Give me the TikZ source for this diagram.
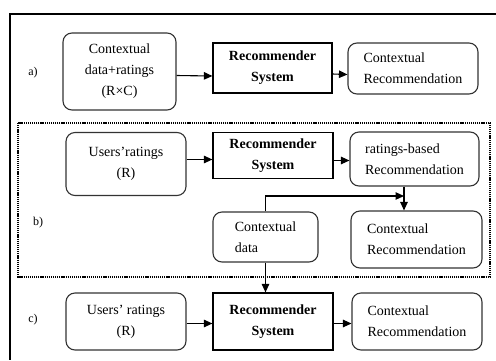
\documentclass[tikz,border=0pt]{standalone}
\usepackage{fontspec}
\setmainfont{Liberation Serif}
\usepackage{tikz}
\usetikzlibrary{arrows.meta}
\tikzstyle{node_round} = [rectangle, rounded corners=9pt, draw=black!80, line width=1.1pt, inner sep=0pt, align=left, font=\fontsize{14}{21}\selectfont]
\tikzstyle{node_sys} = [rectangle, draw, line width=1.2pt, inner sep=0pt, align=center, font=\fontsize{14}{21}\selectfont\bfseries]
\tikzstyle{node_label} = [font=\fontsize{12}{14}\selectfont]
\tikzstyle{edge_arrow} = [line width=1.1pt, -{Triangle[length=8.5pt,width=7.5pt]}]
\tikzstyle{frame_dotted} = [line width=1.4pt, dash pattern=on 1.2pt off 0.9pt]

\begin{document}
\begin{tikzpicture}[x=1pt,y=-1pt]
			\useasboundingbox (0,0) rectangle (496,360);
			\draw[line width=2.6pt] (496,14) -- (10,14) -- (10,360);
			\draw[frame_dotted] (18,123) rectangle (490,277);
			% a)
			\node (LA) at (33,73) [node_label] {a)};
			\node (A1) at (119.5,71.5) [node_round, align=center, minimum width=113pt, minimum height=77pt] {Contextual\\data+ratings\\(R×C)};
			\node (A2) at (272.5,68) [node_sys, minimum width=119pt, minimum height=50pt] {Recommender\\System};
			\node (A3) at (413,68.5) [node_round, minimum width=130pt, minimum height=51pt] {Contextual\\Recommendation};
			\draw[edge_arrow] ([yshift=-4pt]A1.east) -- ([yshift=-8pt]A2.west);
			\draw[edge_arrow] ([yshift=-6pt]A2.east) -- ([yshift=-6pt]A3.west);
			% b)
			\node (LB) at (38,223) [node_label] {b)};
			\node (B1) at (126,164) [node_round, align=center, minimum width=120pt, minimum height=63pt] {Users’ratings\\(R)};
			\node (B2) at (273,155.5) [node_sys, minimum width=120pt, minimum height=46pt] {Recommender\\System};
			\node (B3) at (414.5,159) [node_round, minimum width=129pt, minimum height=54pt] {ratings-based\\Recommendation};
			\node (B4) at (265.5,237) [node_round, minimum width=105pt, minimum height=50pt] {Contextual\\data};
			\node (B5) at (416.5,239.5) [node_round, minimum width=131pt, minimum height=57pt] {Contextual\\Recommendation};
			\coordinate (join) at (404,196);
			\draw[edge_arrow] ([yshift=-4pt]B2.west -| B1.east) -- ([yshift=-4pt]B2.west);
			\draw[edge_arrow] ([yshift=-5pt]B2.east) -- ([yshift=-5pt]B2.east -| B3.west);
			\draw[edge_arrow] (B4.north) |- (join);
			\draw[edge_arrow] (B3.south -| join) -- (B5.north -| join);
			% c)
			\node (LC) at (33,320) [node_label] {c)};
			\node (C1) at (126,321.5) [node_round, align=center, minimum width=120pt, minimum height=57pt] {Users’ ratings\\(R)};
			\node (C2) at (273,321.5) [node_sys, minimum width=120pt, minimum height=57pt] {Recommender\\System};
			\node (C3) at (417,321.5) [node_round, minimum width=130pt, minimum height=57pt] {Contextual\\Recommendation};
			\draw[edge_arrow] (B4.south) -- (B4.south |- C2.north);
			\draw[edge_arrow] ([yshift=-2pt]C1.east) -- ([yshift=-2pt]C2.west);
			\draw[edge_arrow] ([yshift=-2pt]C2.east) -- ([yshift=-2pt]C3.west);
		\end{tikzpicture}
\end{document}
